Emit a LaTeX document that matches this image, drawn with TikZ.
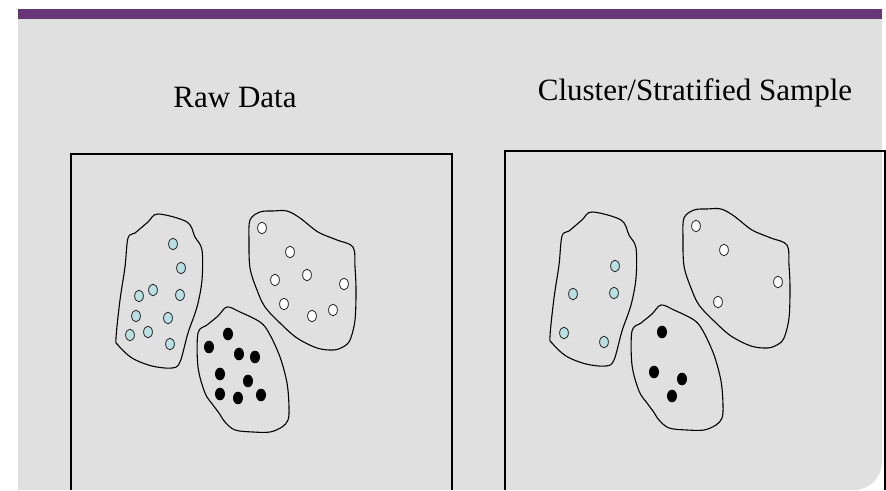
\documentclass[tikz,border=0pt]{standalone}
\usepackage{fontspec}
\setmainfont{Liberation Serif}
\usepackage{xcolor}
\usepackage{tikz}
\definecolor{slidepurple}{RGB}{102, 54, 119}
\definecolor{slidegray}{RGB}{224, 224, 224}
\definecolor{dotcyan}{RGB}{186, 224, 228}

\begin{document}
\begin{tikzpicture}[x=1pt, y=-1pt,
    blob/.style={line width=1.1pt, line join=round},
    panel/.style={line width=1.4pt},
    cyandot/.style={draw=black!85, line width=0.8pt, fill=dotcyan},
    whitedot/.style={draw=black!85, line width=0.8pt, fill=white},
    blackdot/.style={fill=black},
    title/.style={font=\fontsize{31}{36}\selectfont, anchor=base, inner sep=0pt}]
    \useasboundingbox (0,0) rectangle (886,490);

    % Slide background
    \fill[white] (0,0) rectangle (886,490);
    \fill[slidegray] (18,19) -- (882,19) -- (882,462) .. controls (882,477) and (870,490) .. (854,490) -- (18,490) -- cycle;
    \fill[slidepurple] (18,9) rectangle (882,19);

    % Titles
    \node[title] (rawtitle) at (235,107) {Raw Data};
    \node[title] (sampletitle) at (695,100) {Cluster/Stratified Sample};

    % Frames
    \draw[panel] (71,490) -- (71,154) -- (452,154) -- (452,490);
    \draw[panel] (505,490) -- (505,151) -- (885,151) -- (885,490);

    % Raw data: three groups
    \draw[blob] plot[smooth cycle, tension=0.55] coordinates {(158,214) (187,222) (195,237) (202,250) (202,280) (197,307) (188,333) (180,362) (172,368) (152,366) (132,358) (118,345) (116,338) (120,300) (125,267) (128,238) (135,233) (148,222)};
    \draw[blob] plot[smooth cycle, tension=0.55] coordinates {(273,211) (287,211) (300,218) (318,232) (337,240) (353,247) (355,267) (356,290) (355,320) (350,340) (343,347) (333,350) (317,348) (297,338) (280,323) (265,307) (257,290) (250,268) (249,240) (250,220) (260,212)};
    \draw[blob] plot[smooth cycle, tension=0.55] coordinates {(227,307) (240,312) (260,322) (269,333) (280,357) (287,383) (289,407) (288,420) (282,427) (270,432) (253,432) (235,430) (225,422) (219,413) (213,405) (205,393) (198,367) (198,333) (207,325) (218,316)};

    \draw[cyandot] (173,244) ellipse (4.4pt and 5.8pt);
    \draw[cyandot] (181,268) ellipse (4.4pt and 5.8pt);
    \draw[cyandot] (139,296) ellipse (4.4pt and 5.8pt);
    \draw[cyandot] (153,290) ellipse (4.4pt and 5.8pt);
    \draw[cyandot] (180,295) ellipse (4.4pt and 5.8pt);
    \draw[cyandot] (136,316) ellipse (4.4pt and 5.8pt);
    \draw[cyandot] (168,318) ellipse (4.4pt and 5.8pt);
    \draw[cyandot] (130,335) ellipse (4.4pt and 5.8pt);
    \draw[cyandot] (148,332) ellipse (4.4pt and 5.8pt);
    \draw[cyandot] (170,344) ellipse (4.4pt and 5.8pt);

    \draw[whitedot] (262,228) ellipse (4.4pt and 5.8pt);
    \draw[whitedot] (290,252) ellipse (4.4pt and 5.8pt);
    \draw[whitedot] (275,280) ellipse (4.4pt and 5.8pt);
    \draw[whitedot] (307,275) ellipse (4.4pt and 5.8pt);
    \draw[whitedot] (344,284) ellipse (4.4pt and 5.8pt);
    \draw[whitedot] (284,304) ellipse (4.4pt and 5.8pt);
    \draw[whitedot] (312,316) ellipse (4.4pt and 5.8pt);
    \draw[whitedot] (333,310) ellipse (4.4pt and 5.8pt);

    \fill[blackdot] (228,334) ellipse (5pt and 6.3pt);
    \fill[blackdot] (209,347) ellipse (5pt and 6.3pt);
    \fill[blackdot] (239,354) ellipse (5pt and 6.3pt);
    \fill[blackdot] (255,357) ellipse (5pt and 6.3pt);
    \fill[blackdot] (220,374) ellipse (5pt and 6.3pt);
    \fill[blackdot] (248,381) ellipse (5pt and 6.3pt);
    \fill[blackdot] (220,394) ellipse (5pt and 6.3pt);
    \fill[blackdot] (238,398) ellipse (5pt and 6.3pt);
    \fill[blackdot] (261,395) ellipse (5pt and 6.3pt);

    % Sample: same groups, fewer points from each
    \begin{scope}[shift={(434,-2)}]
        \draw[blob] plot[smooth cycle, tension=0.55] coordinates {(158,214) (187,222) (195,237) (202,250) (202,280) (197,307) (188,333) (180,362) (172,368) (152,366) (132,358) (118,345) (116,338) (120,300) (125,267) (128,238) (135,233) (148,222)};
        \draw[blob] plot[smooth cycle, tension=0.55] coordinates {(273,211) (287,211) (300,218) (318,232) (337,240) (353,247) (355,267) (356,290) (355,320) (350,340) (343,347) (333,350) (317,348) (297,338) (280,323) (265,307) (257,290) (250,268) (249,240) (250,220) (260,212)};
        \draw[blob] plot[smooth cycle, tension=0.55] coordinates {(227,307) (240,312) (260,322) (269,333) (280,357) (287,383) (289,407) (288,420) (282,427) (270,432) (253,432) (235,430) (225,422) (219,413) (213,405) (205,393) (198,367) (198,333) (207,325) (218,316)};

        \draw[cyandot] (181,268) ellipse (4.4pt and 5.8pt);
        \draw[cyandot] (139,296) ellipse (4.4pt and 5.8pt);
        \draw[cyandot] (180,295) ellipse (4.4pt and 5.8pt);
        \draw[cyandot] (130,335) ellipse (4.4pt and 5.8pt);
        \draw[cyandot] (170,344) ellipse (4.4pt and 5.8pt);

        \draw[whitedot] (262,228) ellipse (4.4pt and 5.8pt);
        \draw[whitedot] (290,252) ellipse (4.4pt and 5.8pt);
        \draw[whitedot] (344,284) ellipse (4.4pt and 5.8pt);
        \draw[whitedot] (284,304) ellipse (4.4pt and 5.8pt);

        \fill[blackdot] (228,334) ellipse (5pt and 6.3pt);
        \fill[blackdot] (220,374) ellipse (5pt and 6.3pt);
        \fill[blackdot] (248,381) ellipse (5pt and 6.3pt);
        \fill[blackdot] (238,398) ellipse (5pt and 6.3pt);
    \end{scope}

\end{tikzpicture}
\end{document}
